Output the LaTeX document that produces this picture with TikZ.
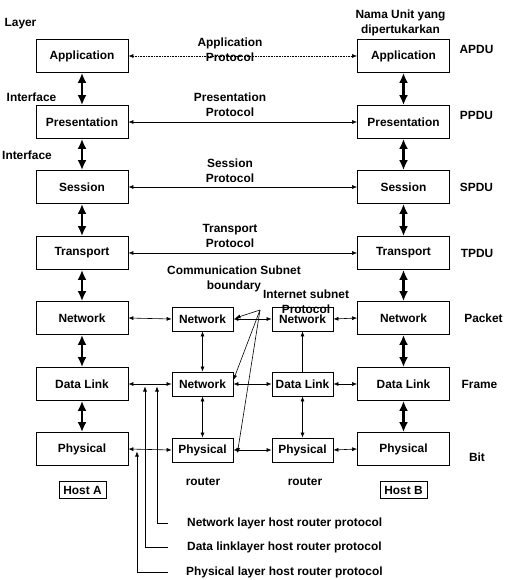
\documentclass[tikz,border=0pt]{standalone}
\usepackage{fontspec}
\setmainfont{Liberation Sans}
\usetikzlibrary{arrows.meta}

\tikzset{
  layerbox/.style={draw, line width=0.8pt, minimum width=92pt, minimum height=33pt, inner sep=0pt},
  routerbox/.style={draw, line width=0.8pt, minimum width=61pt, minimum height=24pt, inner sep=0pt},
  hostbox/.style={draw, line width=0.8pt, minimum width=47pt, minimum height=17pt, inner sep=0pt},
  lbl/.style={align=center, inner sep=0pt},
  biarrow/.style={line width=0.6pt, {Latex[length=5pt,width=4pt]}-{Latex[length=5pt,width=4pt]}},
  onearrow/.style={line width=0.6pt, -{Latex[length=5pt,width=4pt]}},
  thickarrow/.style={line width=2.4pt, {Latex[length=10pt,width=9pt]}-{Latex[length=10pt,width=9pt]}},
}

\begin{document}
\begin{tikzpicture}[x=1pt, y=-1pt, font=\bfseries\fontsize{11.9}{15}\selectfont]

\useasboundingbox (0,0) rectangle (507,580);

% host A
\node[layerbox] (a1) at (82,56) {Application};
\node[layerbox] (a2) at (82,122) {Presentation};
\node[layerbox] (a3) at (82,187) {Session};
\node[layerbox] (a4) at (82,253) {Transport};
\node[layerbox] (a5) at (82,318) {Network};
\node[layerbox] (a6) at (82,384) {Data Link};
\node[layerbox] (a7) at (82,449) {Physical};
\node[hostbox] (hosta) at (82.5,490) {Host A};

% host B
\node[layerbox] (b1) at (403.5,56) {Application};
\node[layerbox] (b2) at (403.5,122) {Presentation};
\node[layerbox] (b3) at (403.5,187) {Session};
\node[layerbox] (b4) at (403.5,253) {Transport};
\node[layerbox] (b5) at (403.5,318) {Network};
\node[layerbox] (b6) at (403.5,384) {Data Link};
\node[layerbox] (b7) at (403.5,449) {Physical};
\node[hostbox] (hostb) at (403.5,490) {Host B};

% routers
\node[routerbox] (r1net) at (202.5,319) {Network};
\node[routerbox] (r1dl) at (202.5,384) {Network};
\node[routerbox] (r1phy) at (202.5,450) {Physical};
\node[routerbox] (r2net) at (302.5,319) {Network};
\node[routerbox] (r2dl) at (302.5,384) {Data Link};
\node[routerbox] (r2phy) at (302.5,450) {Physical};
\node[lbl] (rt1) at (203,482) {router};
\node[lbl] (rt2) at (305,482) {router};

% interfaces
\draw[thickarrow] (a1.south) -- (a2.north);
\draw[thickarrow] (a2.south) -- (a3.north);
\draw[thickarrow] (a3.south) -- (a4.north);
\draw[thickarrow] (a4.south) -- (a5.north);
\draw[thickarrow] (a5.south) -- (a6.north);
\draw[thickarrow] (a6.south) -- (a7.north);
\draw[thickarrow] (b1.south) -- (b2.north);
\draw[thickarrow] (b2.south) -- (b3.north);
\draw[thickarrow] (b3.south) -- (b4.north);
\draw[thickarrow] (b4.south) -- (b5.north);
\draw[thickarrow] (b5.south) -- (b6.north);
\draw[thickarrow] (b6.south) -- (b7.north);

% peer protocols
\draw[biarrow, densely dotted] (a1.east) -- (b1.west);
\draw[biarrow] (a2.east) -- (b2.west);
\draw[biarrow] (a3.east) -- (b3.west);
\draw[biarrow] (a4.east) -- (b4.west);
\draw[biarrow] (a5.east) -- (r1net.west);
\draw[biarrow] (r1net.east) -- (r2net.west);
\draw[biarrow] (r2net.east) -- (b5.west);
\draw[biarrow] (a6.east) -- (r1dl.west);
\draw[biarrow] (r1dl.east) -- (r2dl.west);
\draw[biarrow] (r2dl.east) -- (b6.west);
\draw[biarrow] (a7.east) -- (r1phy.west);
\draw[biarrow] (r1phy.east) -- (r2phy.west);
\draw[biarrow] (r2phy.east) -- (b7.west);

% inside the routers
\draw[biarrow] (r1net.south) -- (r1dl.north);
\draw[biarrow] (r1dl.south) -- (r1phy.north);
\draw[onearrow] (r2dl.north) -- (r2net.south);
\draw[biarrow] (r2dl.south) -- (r2phy.north);

% labels
\node[lbl] (layer) at (20.5,24) {Layer};
\node[lbl] (if1) at (31.5,97) {Interface};
\node[lbl] (if2) at (27,155) {Interface};
\node[lbl] (unit) at (400.5,22.5) {Nama Unit yang\\dipertukarkan};
\node[lbl] (p1) at (230,49.5) {Application\\Protocol};
\node[lbl] (p2) at (230,105) {Presentation\\Protocol};
\node[lbl] (p3) at (230,170.5) {Session\\Protocol};
\node[lbl] (p4) at (230,236) {Transport\\Protocol};
\node[lbl] (comm) at (234,278.5) {Communication Subnet\\boundary};
\node[lbl] (inet) at (306,301.5) {Internet subnet\\Protocol};

\node[lbl] (apdu) at (476.5,49) {APDU};
\node[lbl] (ppdu) at (476.5,115) {PPDU};
\node[lbl] (spdu) at (476.5,187) {SPDU};
\node[lbl] (tpdu) at (477,253) {TPDU};
\node[lbl] (pkt) at (483.5,318) {Packet};
\node[lbl] (frm) at (479.5,384) {Frame};
\node[lbl] (bit) at (477,457) {Bit};

% internet subnet protocol pointers
\coordinate (fan) at (260,310);
\draw[onearrow] (fan) -- ([xshift=2pt,yshift=1pt]r1net.east);
\draw[onearrow] (fan) -- ([yshift=4pt]r1dl.east);
\draw[onearrow] (fan) -- ([xshift=4pt,yshift=-3pt]r1phy.east);

% host router protocols
\node[lbl, anchor=west] (netlab) at (187,523) {Network layer host router protocol};
\node[lbl, anchor=west] (dllab) at (187,547) {Data linklayer host router protocol};
\node[lbl, anchor=west] (phylab) at (186,572) {Physical layer host router protocol};
\coordinate (netup) at (157,386.5);
\coordinate (dlup) at (145,386.5);
\coordinate (phyup) at (137,451.5);
\draw[onearrow] ([xshift=-19pt]netlab.west) -| (netup);
\draw[onearrow] ([xshift=-19pt]dllab.west) -| (dlup);
\draw[onearrow] ([xshift=-18pt]phylab.west) -| (phyup);

\end{tikzpicture}
\end{document}
